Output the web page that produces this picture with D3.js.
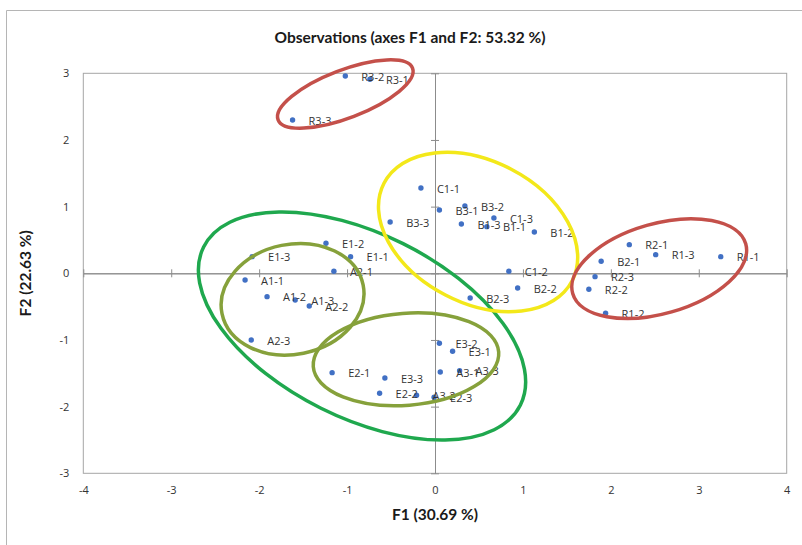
<!DOCTYPE html>
<html>
<head>
<meta charset="utf-8">
<script src="https://cdn.jsdelivr.net/npm/d3@7/dist/d3.min.js"></script>
<style>
  html, body { margin: 0; padding: 0; background: #fff; }
  svg { display: block; }
</style>
</head>
<body>
<svg id="chart" width="802" height="545"></svg>
<script>
// ---------- data ----------
const labels = ["R3-1","R3-2","R3-3","C1-1","C1-2","C1-3","B3-1","B3-2","B3-3",
                "B1-1","B1-2","B1-3","B2-1","B2-2","B2-3","R2-1","R2-2","R2-3",
                "R1-1","R1-2","R1-3","E1-1","E1-2","E1-3","A2-1","A2-2","A2-3",
                "A1-1","A1-2","A1-3","E2-1","E2-2","E2-3","E3-1","E3-2","E3-3",
                "A3-1","A3-2","A3-3"];
const f1 = [-0.74,-1.02,-1.62,-0.16, 0.84, 0.67, 0.05, 0.34,-0.51,
             0.59, 1.13, 0.30, 1.89, 0.94, 0.40, 2.21, 1.75, 1.82,
             3.25, 1.94, 2.51,-0.96,-1.24,-2.08,-1.15,-1.43,-2.09,
            -2.16,-1.91,-1.59,-1.17,-0.63,-0.01, 0.20, 0.05,-0.57,
             0.06,-0.21, 0.28];
const f2 = [ 2.91, 2.96, 2.30, 1.28, 0.03, 0.83, 0.95, 1.01, 0.77,
             0.70, 0.62, 0.74, 0.18,-0.22,-0.37, 0.43,-0.24,-0.05,
             0.25,-0.60, 0.28, 0.25, 0.45, 0.25, 0.03,-0.49,-1.00,
            -0.10,-0.35,-0.40,-1.49,-1.80,-1.86,-1.17,-1.05,-1.57,
            -1.48,-1.83,-1.46];
const xTicks = [-4,-3,-2,-1,0,1,2,3,4];
const yTicks = [-3,-2,-1,0,1,2,3];
const title = "Observations (axes F1 and F2: 53.32 %)";
const xTitle = "F1 (30.69 %)";
const yTitle = "F2 (22.63 %)";

// group outlines (centre in F1/F2 units)
const ringNames  = ["G-all","A-low","E-low","B/C","R-right","R3"];
const ringCx     = [-0.83,-1.62,-0.33, 0.49, 2.55,-1.02];
const ringCy     = [-0.79,-0.39,-1.29, 0.62, 0.07, 2.69];

// ---------- layout / style ----------
const svg = d3.select("#chart");
const plot = {left: 83.3, right: 786.7, top: 73.3, bottom: 473.3};
const ringRx   = [177, 72, 93, 106, 90, 72];
const ringRy   = [ 92, 55, 46,  71, 45, 24];
const ringRot  = [26.5,-11.5,-4.5, 27.4,-16,-21];
const ringCol  = ["#1fa84e","#86a13b","#86a13b","#f3e81a","#c4504a","#c4504a"];
const FONT = "'Open Sans', 'Liberation Sans', sans-serif";
const TFONT = "Lato, 'Liberation Sans', sans-serif";

const x = d3.scaleLinear().domain([-4,4]).range([plot.left, plot.right]);
const y = d3.scaleLinear().domain([-3,3]).range([plot.bottom, plot.top]);

// outer chart border (extends off-picture right/bottom)
svg.append("path")
  .attr("d","M6.5,545 L6.5,10.5 L802,10.5")
  .attr("fill","none").attr("stroke","#b5b5b5").attr("stroke-width",1);

// plot frame
svg.append("rect")
  .attr("x", plot.left).attr("y", plot.top)
  .attr("width", plot.right-plot.left).attr("height", plot.bottom-plot.top)
  .attr("fill","none").attr("stroke","#a6a6a6").attr("stroke-width",1);

// crossing axes at zero with crossing tick marks
function styleAxis(g){
  g.selectAll("path.domain").attr("stroke","#8c8c8c").attr("stroke-width",1);
  g.selectAll(".tick line").attr("stroke","#8c8c8c");
  g.selectAll(".tick text").remove();
}
svg.append("g").attr("transform",`translate(0,${y(0)})`)
  .call(d3.axisBottom(x).tickValues(xTicks).tickSize(4).tickSizeOuter(0)).call(styleAxis);
svg.append("g").attr("transform",`translate(0,${y(0)})`)
  .call(d3.axisTop(x).tickValues(xTicks).tickSize(4).tickSizeOuter(0)).call(styleAxis);
svg.append("g").attr("transform",`translate(${x(0)},0)`)
  .call(d3.axisLeft(y).tickValues(yTicks).tickSize(4).tickSizeOuter(0)).call(styleAxis);
svg.append("g").attr("transform",`translate(${x(0)},0)`)
  .call(d3.axisRight(y).tickValues(yTicks).tickSize(4).tickSizeOuter(0)).call(styleAxis);

// tick labels at the frame edges
function styleLabels(g){
  g.select("path.domain").remove();
  g.selectAll(".tick line").remove();
  g.selectAll(".tick text").attr("fill","#333")
    .style("font-family",FONT).style("font-size","11px");
}
svg.append("g").attr("transform",`translate(0,${plot.bottom})`)
  .call(d3.axisBottom(x).tickValues(xTicks).tickSize(0).tickPadding(13).tickFormat(d=>String(d)))
  .call(styleLabels);
svg.append("g").attr("transform",`translate(${plot.left},0)`)
  .call(d3.axisLeft(y).tickValues(yTicks).tickSize(0).tickPadding(14).tickFormat(d=>String(d)))
  .call(styleLabels);

// points
const pts = labels.map((l,i)=>({label:l, f1:f1[i], f2:f2[i]}));
svg.append("g").selectAll("circle").data(pts).join("circle")
  .attr("cx", d=>x(d.f1)).attr("cy", d=>y(d.f2)).attr("r",2.7)
  .attr("fill","#4170c4");
svg.append("g").selectAll("text").data(pts).join("text")
  .attr("x", d=>x(d.f1)+16).attr("y", d=>y(d.f2)+1)
  .attr("dy","0.35em")
  .attr("fill","#333")
  .style("font-family",FONT).style("font-size","11px")
  .text(d=>d.label);

// group outlines
const rings = ringNames.map((n,i)=>({name:n, cx:ringCx[i], cy:ringCy[i], rx:ringRx[i], ry:ringRy[i], rot:ringRot[i], col:ringCol[i]}));
svg.append("g").selectAll("ellipse").data(rings).join("ellipse")
  .attr("transform", d=>`translate(${x(d.cx)},${y(d.cy)}) rotate(${d.rot})`)
  .attr("rx", d=>d.rx).attr("ry", d=>d.ry)
  .attr("fill","none").attr("stroke", d=>d.col).attr("stroke-width",3.5);

// titles
svg.append("text").attr("x",410).attr("y",43).attr("text-anchor","middle")
  .style("font-family",TFONT).style("font-weight","bold").style("font-size","15.5px")
  .attr("fill","#1a1a1a").text(title);
svg.append("text").attr("x",(plot.left+plot.right)/2).attr("y",520).attr("text-anchor","middle")
  .style("font-family",TFONT).style("font-weight","bold").style("font-size","15.5px")
  .attr("fill","#1a1a1a").text(xTitle);
svg.append("text").attr("transform",`translate(31,${(plot.top+plot.bottom)/2}) rotate(-90)`)
  .attr("text-anchor","middle")
  .style("font-family",TFONT).style("font-weight","bold").style("font-size","15.5px")
  .attr("fill","#1a1a1a").text(yTitle);
</script>
</body>
</html>
